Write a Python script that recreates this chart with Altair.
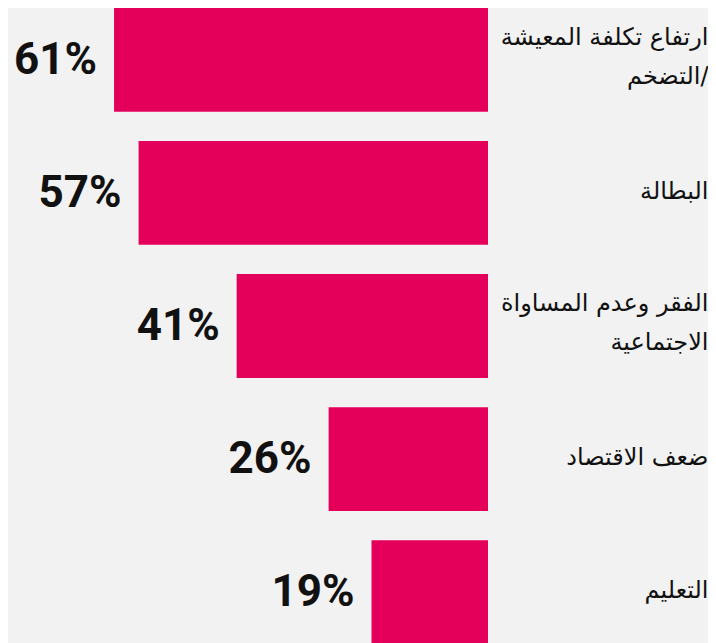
import altair as alt
import pandas as pd

# issue labels (right side), top to bottom; "\n" marks the line break
issues = [
    "ارتفاع تكلفة المعيشة\nالتضخم/",
    "البطالة",
    "الفقر وعدم المساواة\nالاجتماعية",
    "ضعف الاقتصاد",
    "التعليم",
]
shares = [61, 57, 41, 26, 19]

frame = pd.DataFrame({"issue": issues, "share": shares})
frame["share_label"] = frame["share"].astype(str) + "%"

BAR_COLOR = "#E4005A"
BG = "#F2F2F2"

y_enc = alt.Y(
    "issue:N",
    sort=issues,
    scale=alt.Scale(paddingInner=0.22, paddingOuter=0),
    axis=alt.Axis(
        orient="right",
        title=None,
        domain=False,
        ticks=False,
        labelExpr="split(datum.label, '\\n')",
        labelAlign="right",
        labelBaseline="middle",
        # two-line labels are shifted up so both lines sit around the bar centre
        labelOffset={
            "condition": {"test": "indexof(datum.value, '\\n') >= 0", "value": -22},
            "value": -1,
        },
        labelPadding=220,
        labelFont="DejaVu Sans",
        labelFontSize=24,
        labelLineHeight=39,
        labelColor="#111111",
        labelLimit=400,
    ),
)

x_enc = alt.X(
    "share:Q",
    scale=alt.Scale(domain=[0, 78.3], reverse=True),
    axis=None,
)

bars = alt.Chart(frame).mark_bar(color=BAR_COLOR).encode(x=x_enc, y=y_enc)

labels = (
    alt.Chart(frame)
    .mark_text(
        align="right",
        baseline="middle",
        dx=-17,
        dy=1,
        font="Roboto",
        fontWeight="bold",
        fontSize=44,
        color="#111111",
    )
    .encode(x=x_enc, y=alt.Y("issue:N", sort=issues), text="share_label:N")
)

chart = (
    alt.layer(bars, labels)
    .properties(width=480, height=636, padding=0, background=BG)
    .configure_view(stroke=None)
)

chart.save("out.html", embed_options={"renderer": "svg", "actions": False})
